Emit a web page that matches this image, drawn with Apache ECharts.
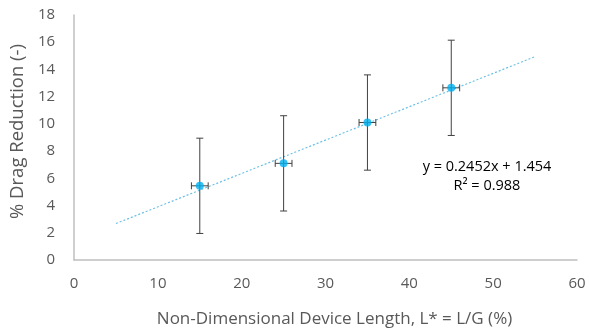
<!DOCTYPE html>
<html>
<head>
<meta charset="utf-8">
<script src="https://cdn.jsdelivr.net/npm/echarts@6/dist/echarts.min.js"></script>
<style>html,body{margin:0;padding:0;background:#fff}#c{width:590px;height:336px}</style>
</head>
<body>
<div id="c"></div>
<script>
var xVals = [15, 25, 35, 45];
var yVals = [5.45, 7.1, 10.1, 12.65];
var yErr = [3.5, 3.5, 3.5, 3.5];
var xErr = [1, 1, 1, 1];
var trendX = [5, 55];
var trendY = [2.68, 14.94];
var equationText = 'y = 0.2452x + 1.454';
var r2Text = 'R² = 0.988';

var FONT = '"Open Sans"';
var chart = echarts.init(document.getElementById('c'));

var points = xVals.map(function (x, i) { return [x, yVals[i]]; });
var errData = xVals.map(function (x, i) { return [x, yVals[i], xErr[i], yErr[i]]; });
var trendData = trendX.map(function (x, i) { return [x, trendY[i]]; });

function renderErr(params, api) {
  var x = api.value(0), y = api.value(1), ex = api.value(2), ey = api.value(3);
  var top = api.coord([x, y + ey]);
  var bot = api.coord([x, y - ey]);
  var left = api.coord([x - ex, y]);
  var right = api.coord([x + ex, y]);
  var cap = 3.5;
  var st = { stroke: '#404040', lineWidth: 1 };
  return {
    type: 'group',
    children: [
      { type: 'line', shape: { x1: top[0], y1: top[1], x2: bot[0], y2: bot[1] }, style: st },
      { type: 'line', shape: { x1: top[0] - cap, y1: top[1], x2: top[0] + cap, y2: top[1] }, style: st },
      { type: 'line', shape: { x1: bot[0] - cap, y1: bot[1], x2: bot[0] + cap, y2: bot[1] }, style: st },
      { type: 'line', shape: { x1: left[0], y1: left[1], x2: right[0], y2: right[1] }, style: st },
      { type: 'line', shape: { x1: left[0], y1: left[1] - cap, x2: left[0], y2: left[1] + cap }, style: st },
      { type: 'line', shape: { x1: right[0], y1: right[1] - cap, x2: right[0], y2: right[1] + cap }, style: st }
    ]
  };
}

chart.setOption({
  animation: false,
  backgroundColor: '#fff',
  grid: { left: 73, right: 13, top: 15, bottom: 76, containLabel: false },
  xAxis: {
    type: 'value', min: 0, max: 60, interval: 10,
    name: 'Non-Dimensional Device Length, L* = L/G (%)',
    nameLocation: 'middle', nameGap: 51,
    nameTextStyle: { fontFamily: FONT, fontSize: 17, color: '#595959', padding: [0, 0, 0, 18] },
    axisLine: { show: true, lineStyle: { color: '#bfbfbf', width: 1.5 } },
    axisTick: { show: false },
    splitLine: { show: false },
    axisLabel: { fontFamily: FONT, fontSize: 15, color: '#595959', margin: 16 }
  },
  yAxis: {
    type: 'value', min: 0, max: 18, interval: 2,
    name: '% Drag Reduction (-)',
    nameLocation: 'middle', nameGap: 44,
    nameTextStyle: { fontFamily: FONT, fontSize: 18.5, color: '#595959', padding: [0, 0, 0, 12] },
    axisLine: { show: true, lineStyle: { color: '#bfbfbf', width: 1.5 } },
    axisTick: { show: false },
    splitLine: { show: false },
    axisLabel: { fontFamily: FONT, fontSize: 15, color: '#595959', margin: 19 }
  },
  series: [
    {
      type: 'line', data: trendData, symbol: 'none', z: 1,
      lineStyle: { color: '#6cc0e5', width: 1.2, type: [2, 2] }
    },
    {
      type: 'custom', data: errData, renderItem: renderErr, z: 2,
      encode: { x: 0, y: 1 }
    },
    {
      type: 'scatter', data: points, symbol: 'circle', symbolSize: 8, z: 3,
      itemStyle: { color: '#00b0f0' }
    }
  ],
  graphic: [
    { type: 'text', x: 487, y: 167, style: { text: equationText, fontFamily: FONT, fontSize: 14.5, fill: '#000', align: 'center', verticalAlign: 'middle' } },
    { type: 'text', x: 487, y: 186, style: { text: r2Text, fontFamily: FONT, fontSize: 14.5, fill: '#000', align: 'center', verticalAlign: 'middle' } }
  ]
});
</script>
</body>
</html>
